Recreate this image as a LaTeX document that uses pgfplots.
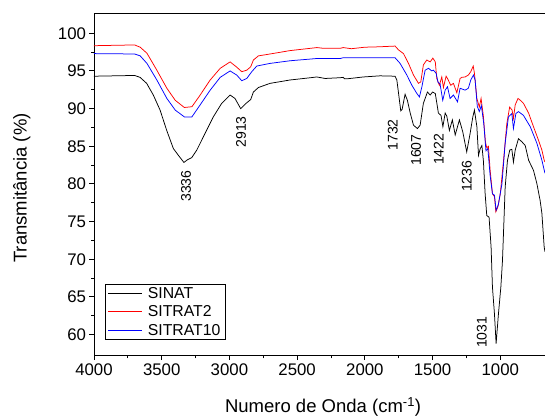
\documentclass[border=0pt]{standalone}
\usepackage{fontspec}
\setmainfont{Liberation Sans}
\usepackage{pgfplots}
\pgfplotsset{compat=1.18}

% SINAT
\newcommand{\sinat}{
(4000,94.30) (3850,94.35) (3700,94.40) (3660,94.15) (3611,93.35) (3562,91.80)
(3512,89.80) (3463,87.10) (3414,84.70) (3377,83.80) (3336,82.85) (3311,83.20)
(3278,83.50) (3241,84.50) (3180,86.70) (3119,88.90) (3057,90.70) (2995,91.80)
(2959,91.35) (2917,90.00) (2877,90.70) (2843,91.20) (2823,92.20) (2786,92.80)
(2700,93.35) (2552,93.80) (2400,94.10) (2355,94.20) (2293,94.00) (2183,94.10)
(2160,94.15) (2150,93.95) (2134,93.95) (2011,94.20) (1888,94.35) (1777,94.30)
(1764,93.80) (1751,92.00) (1735,89.70) (1725,89.90) (1703,91.90) (1686,91.10)
(1665,89.40) (1641,87.80) (1612,87.35) (1592,87.80) (1568,90.70) (1538,92.20)
(1518,91.80) (1500,92.20) (1480,92.00) (1457,89.40) (1438,89.10) (1424,87.60)
(1407,89.40) (1395,89.00) (1376,87.10) (1354,88.50) (1333,86.50) (1302,88.50)
(1277,86.90) (1248,84.25) (1223,86.70) (1203,88.90) (1191,89.80) (1173,87.60)
(1161,83.80) (1148,84.70) (1136,85.10) (1125,83.10) (1112,78.70) (1100,75.80)
(1083,75.60) (1068,71.60) (1058,66.30) (1043,62.70) (1031,58.80) (1014,62.70)
(996,66.30) (984,69.80) (964,79.60) (947,83.15) (930,84.50) (915,84.60)
(903,82.90) (890,84.50) (866,86.00) (841,85.60) (816,85.10) (791,83.15)
(755,81.80) (730,80.05) (706,77.80) (693,76.10) (676,71.60) (670,71.00)
}
% SITRAT2
\newcommand{\sitratii}{
(4000,98.35) (3700,98.45) (3659,98.15) (3609,97.35) (3536,95.10) (3462,92.70)
(3400,91.10) (3333,90.15) (3277,90.25) (3216,91.80) (3142,93.80) (3068,95.35)
(2995,96.20) (2946,95.50) (2909,94.90) (2872,95.10) (2843,95.55) (2823,96.45)
(2786,97.00) (2700,97.25) (2552,97.70) (2354,98.10) (2305,98.00) (2182,98.00)
(2160,98.10) (2100,97.95) (2000,98.15) (1900,98.20) (1777,98.30) (1752,97.80)
(1715,97.30) (1678,96.00) (1641,94.45) (1604,93.35) (1587,93.55) (1568,95.80)
(1543,96.45) (1518,96.20) (1498,96.70) (1480,96.20) (1469,94.00) (1450,93.10)
(1432,94.20) (1420,92.80) (1400,94.30) (1390,94.00) (1366,93.10) (1346,93.35)
(1321,92.10) (1297,94.00) (1284,94.15) (1260,94.20) (1236,94.45) (1218,94.90)
(1200,95.65) (1191,94.70) (1173,91.35) (1155,90.20) (1142,91.35) (1125,89.00)
(1110,85.60) (1100,84.80) (1088,85.00) (1075,81.80) (1058,78.70) (1043,78.30)
(1033,76.30) (1018,76.95) (1000,78.70) (976,83.15) (952,88.00) (931,90.20)
(913,89.80) (903,88.70) (890,90.50) (869,91.35) (852,91.10) (829,90.70)
(791,89.40) (755,87.60) (718,85.80) (693,84.50) (676,83.15) (670,82.90)
}
% SITRAT10
\newcommand{\sitratx}{
(4000,97.30) (3700,97.25) (3659,97.00) (3609,96.00) (3536,93.80) (3462,91.35)
(3400,89.80) (3333,88.90) (3277,88.90) (3216,90.50) (3142,92.45) (3068,94.15)
(2995,95.00) (2946,94.45) (2909,93.70) (2872,94.00) (2835,94.90) (2798,95.65)
(2700,96.00) (2552,96.35) (2354,96.65) (2182,96.65) (2160,96.75) (2000,96.75)
(1777,96.75) (1740,96.00) (1690,94.45) (1653,93.10) (1616,92.00) (1597,91.55)
(1579,92.90) (1555,95.10) (1530,95.35) (1506,95.00) (1494,95.10) (1474,94.70)
(1460,93.50) (1445,93.30) (1425,91.10) (1407,92.45) (1390,92.90) (1371,91.35)
(1346,91.80) (1316,90.90) (1297,92.70) (1260,92.45) (1236,92.70) (1218,93.80)
(1198,94.45) (1186,93.80) (1170,90.30) (1155,89.60) (1140,90.40) (1122,88.00)
(1106,84.40) (1092,84.70) (1075,81.10) (1058,78.70) (1043,78.50) (1031,76.50)
(1014,77.30) (988,80.00) (964,85.40) (940,88.90) (915,89.35) (903,87.35)
(885,89.35) (866,89.60) (829,89.10) (779,87.60) (730,85.40) (693,83.15)
(676,81.85) (670,81.40)
}

\begin{document}
\begin{tikzpicture}
  \begin{axis}[
    name=ax,
    scale only axis,
    width=451pt,
    height=342.4pt,
    x dir=reverse,
    xmin=670, xmax=4000,
    ymin=57.2, ymax=102.65,
    xtick={1000,1500,...,4000},
    ytick={60,65,...,100},
    minor x tick num=1,
    minor y tick num=1,
    axis y line*=left,
    tick pos=left,
    tick align=outside,
    major tick length=4.5pt,
    minor tick length=2.6pt,
    axis line style={line width=0.9pt},
    every tick/.style={black,line width=0.9pt},
    /pgf/number format/assume math mode=true,
    /pgf/number format/1000 sep={},
    tick label style={font=\fontsize{16.8}{18}\selectfont},
    xlabel={Numero de Onda (cm\textsuperscript{-1})},
    ylabel={Transmitância (\%)},
    label style={font=\fontsize{18.5}{20}\selectfont},
    xlabel style={at={(axis description cs:0.508,0)},anchor=base,yshift=-57pt},
    ylabel style={at={(axis description cs:-0.16,0.49)},anchor=center},
    legend style={at={(0.024,0.046)},anchor=south west,draw=black,line width=0.6pt,
      font=\fontsize{15.8}{17}\selectfont,row sep=2pt,inner xsep=3pt,inner ysep=1pt},
    legend cell align=left,
    legend image code/.code={\draw[#1] (0pt,0pt) -- (34pt,0pt);},
    clip=true,
  ]
    \addplot[black,line width=0.75pt] coordinates {\sinat};
    \addlegendentry{\hspace{3pt}SINAT}
    \addplot[red,line width=0.75pt] coordinates {\sitratii};
    \addlegendentry{\hspace{3pt}SITRAT2}
    \addplot[blue,line width=0.75pt] coordinates {\sitratx};
    \addlegendentry{\hspace{3pt}SITRAT10}

    \begin{scope}[every node/.style={rotate=90,font=\fontsize{14}{15}\selectfont,anchor=center}]
      \node at (axis cs:3320,79.7) {3336};
      \node at (axis cs:2914,86.9) {2913};
      \node at (axis cs:1793,86.5) {1732};
      \node at (axis cs:1622,84.5) {1607};
      \node at (axis cs:1455,84.6) {1422};
      \node at (axis cs:1247,81.0) {1236};
      \node at (axis cs:1136,60.3) {1031};
    \end{scope}
  \end{axis}
  \pgfresetboundingbox
  \path ([xshift=-94pt,yshift=-60.3pt]ax.south west) rectangle ([yshift=13.3pt]ax.north east);
\end{tikzpicture}
\end{document}
